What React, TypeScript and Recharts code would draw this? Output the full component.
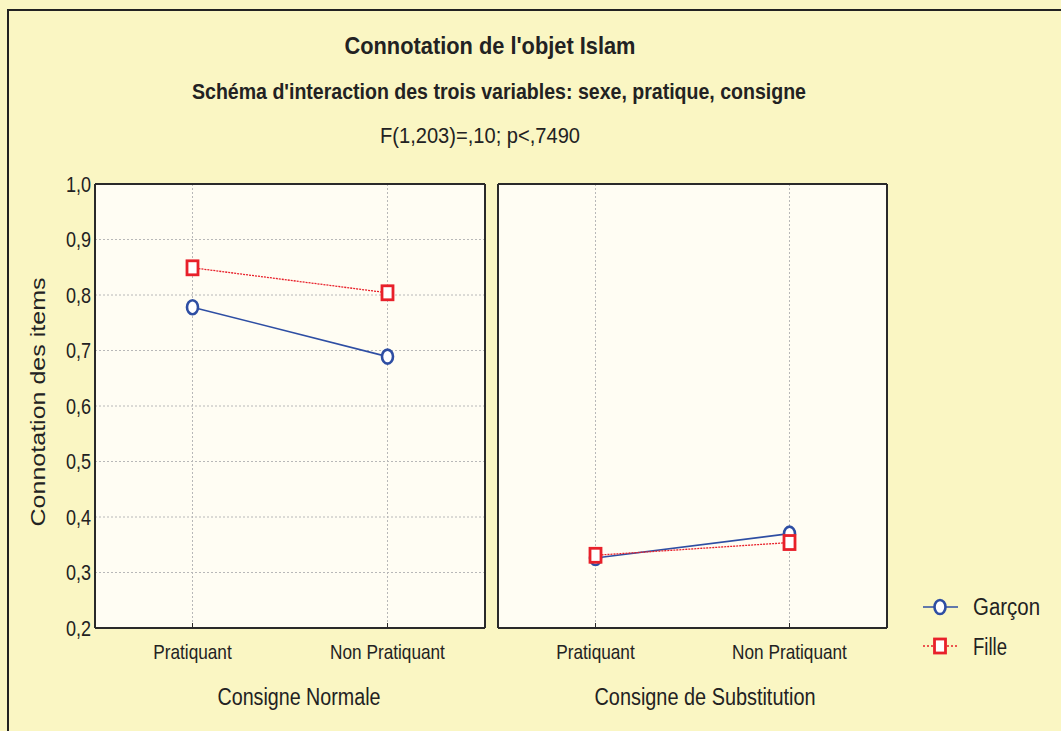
import React from "react";
import { LineChart, Line, XAxis, YAxis, CartesianGrid } from "recharts";

const categories = ["Pratiquant", "Non Pratiquant"];
const garconNormale = [0.778, 0.689];
const filleNormale = [0.849, 0.804];
const garconSubst = [0.326, 0.37];
const filleSubst = [0.331, 0.354];
const majorTicks = [0.2, 0.3, 0.4, 0.5, 0.6, 0.7, 0.8, 0.9, 1.0];
const minorTicks = [
  0.2, 0.225, 0.25, 0.275, 0.3, 0.325, 0.35, 0.375, 0.4, 0.425, 0.45, 0.475,
  0.5, 0.525, 0.55, 0.575, 0.6, 0.625, 0.65, 0.675, 0.7, 0.725, 0.75, 0.775,
  0.8, 0.825, 0.85, 0.875, 0.9, 0.925, 0.95, 0.975, 1.0,
];
const seriesNames = ["Garçon", "Fille"];
const panelTitles = ["Consigne Normale", "Consigne de Substitution"];
const titleLines = [
  "Connotation de l'objet Islam",
  "Schéma d'interaction des trois variables: sexe, pratique, consigne",
  "F(1,203)=,10; p<,7490",
];
const yAxisLabel = "Connotation des items";

const normaleData = categories.map((c, i) => ({ cat: c, garcon: garconNormale[i], fille: filleNormale[i] }));
const substData = categories.map((c, i) => ({ cat: c, garcon: garconSubst[i], fille: filleSubst[i] }));

const BLUE = "#2E4EA3";
const RED = "#E8202A";
const BG = "#FAF6C3";
const PLOT_BG = "#FFFDF3";
const FONT = "'Liberation Sans', Arial, sans-serif";
const INK = "#222";
const NARROW = 0.82;

const CircleDot = (props: any) => {
  const { cx, cy } = props;
  if (cx == null || cy == null) return null;
  return <ellipse cx={cx} cy={cy} rx={5.5} ry={7} fill="#fff" stroke={BLUE} strokeWidth={2.6} />;
};
const SquareDot = (props: any) => {
  const { cx, cy } = props;
  if (cx == null || cy == null) return null;
  return <rect x={cx - 5.5} y={cy - 7} width={11} height={14} fill="#fff" stroke={RED} strokeWidth={2.8} />;
};

const NText = ({ x, y, size, anchor, bold, children }: any) => (
  <g transform={`translate(${x},${y}) scale(${NARROW},1)`}>
    <text x={0} y={0} textAnchor={anchor || "start"} fontFamily={FONT} fontSize={size} fontWeight={bold ? "bold" : "normal"} fill={INK}>
      {children}
    </text>
  </g>
);
const FText = ({ x, y, size, w, anchor, bold, children }: any) => (
  <text
    x={x}
    y={y}
    textAnchor={anchor || "middle"}
    fontFamily={FONT}
    fontSize={size}
    fontWeight={bold ? "bold" : "normal"}
    fill={INK}
    textLength={w}
    lengthAdjust="spacingAndGlyphs"
  >
    {children}
  </text>
);

const XTick = (props: any) => {
  const { x, y, payload } = props;
  return (
    <NText x={x} y={y + 34} size={21} anchor="middle">
      {payload.value}
    </NText>
  );
};
const YTick = (props: any) => {
  const { x, y, payload } = props;
  return (
    <NText x={x + 4} y={y + 7.5} size={22} anchor="end">
      {payload.value.toFixed(1).replace(".", ",")}
    </NText>
  );
};

const AXIS = "#2a2a2a";

function Panel({ data, left, width, showY }: { data: any[]; left: number; width: number; showY: boolean }) {
  const marginLeft = showY ? 35 : 56;
  return (
    <div style={{ position: "absolute", left, top: 0 }}>
      <LineChart
        width={width}
        height={731}
        data={data}
        margin={{ top: 183, right: 14, bottom: 73, left: marginLeft }}
      >
        <CartesianGrid fill={PLOT_BG} stroke="#b8b8b8" strokeDasharray="2 2" horizontalValues={majorTicks} />
        <XAxis
          dataKey="cat"
          padding={{ left: 97.5, right: 97.5 }}
          height={30}
          tick={<XTick />}
          tickLine={{ stroke: AXIS }}
          tickSize={-5}
          axisLine={{ stroke: AXIS, strokeWidth: 2 }}
          interval={0}
        />
        <XAxis
          xAxisId="top"
          orientation="top"
          dataKey="cat"
          height={1}
          tick={false}
          tickLine={false}
          axisLine={{ stroke: AXIS, strokeWidth: 2 }}
        />
        {showY ? (
          <YAxis
            domain={[0.2, 1.0]}
            ticks={majorTicks}
            width={60}
            tick={<YTick />}
            tickLine={false}
            axisLine={{ stroke: AXIS, strokeWidth: 2 }}
            allowDataOverflow
          />
        ) : (
          <YAxis domain={[0.2, 1.0]} ticks={majorTicks} width={1} tick={false} tickLine={false} axisLine={{ stroke: AXIS, strokeWidth: 2 }} allowDataOverflow />
        )}
        <YAxis
          yAxisId="minorL"
          orientation="left"
          mirror
          domain={[0.2, 1.0]}
          ticks={minorTicks}
          interval={0}
          tick={false}
          tickSize={3}
          tickLine={{ stroke: AXIS }}
          axisLine={false}
          width={1}
        />
        <YAxis
          yAxisId="minorR"
          orientation="right"
          domain={[0.2, 1.0]}
          ticks={minorTicks}
          interval={0}
          tick={false}
          tickSize={-3}
          tickLine={{ stroke: AXIS }}
          axisLine={{ stroke: AXIS, strokeWidth: 2 }}
          width={1}
        />
        <Line
          dataKey="garcon"
          name={seriesNames[0]}
          stroke={BLUE}
          strokeWidth={1.6}
          dot={<CircleDot />}
          isAnimationActive={false}
        />
        <Line
          dataKey="fille"
          name={seriesNames[1]}
          stroke={RED}
          strokeWidth={1.3}
          strokeDasharray="2 1"
          dot={<SquareDot />}
          isAnimationActive={false}
        />
      </LineChart>
    </div>
  );
}

export default function App() {
  return (
    <div style={{ position: "absolute", left: 0, top: 0, width: 1061, height: 731, background: BG, overflow: "hidden" }}>
      <div
        style={{
          position: "absolute",
          left: 7,
          top: 9,
          width: 1200,
          height: 900,
          borderLeft: "2.5px solid #222",
          borderTop: "2.5px solid #222",
        }}
      />
      <svg width={1061} height={731} style={{ position: "absolute", left: 0, top: 0 }}>
        <FText x={490} y={54} size={24} w={291} bold>
          {titleLines[0]}
        </FText>
        <FText x={499} y={99} size={22} w={614} bold>
          {titleLines[1]}
        </FText>
        <FText x={480} y={143} size={22} w={200}>
          {titleLines[2]}
        </FText>
        <g transform="translate(45 402) rotate(-90)">
          <FText x={0} y={0} size={20} w={249}>
            {yAxisLabel}
          </FText>
        </g>
        <FText x={299} y={705} size={23} w={163}>
          {panelTitles[0]}
        </FText>
        <FText x={705} y={705} size={23} w={221}>
          {panelTitles[1]}
        </FText>
        <g>
          <line x1={923} x2={958} y1={607} y2={607} stroke={BLUE} strokeWidth={1.6} />
          <ellipse cx={940} cy={607} rx={5.5} ry={7} fill="#fff" stroke={BLUE} strokeWidth={2.6} />
          <FText x={973} y={615} size={23} w={67} anchor="start">
            {seriesNames[0]}
          </FText>
          <line x1={923} x2={958} y1={646} y2={646} stroke={RED} strokeWidth={1.3} strokeDasharray="2 2" />
          <rect x={934.5} y={639} width={11} height={14} fill="#fff" stroke={RED} strokeWidth={2.8} />
          <FText x={973} y={655} size={23} w={34} anchor="start">
            {seriesNames[1]}
          </FText>
        </g>
      </svg>
      <Panel data={normaleData} left={0} width={500} showY={true} />
      <Panel data={substData} left={441} width={461} showY={false} />
    </div>
  );
}
